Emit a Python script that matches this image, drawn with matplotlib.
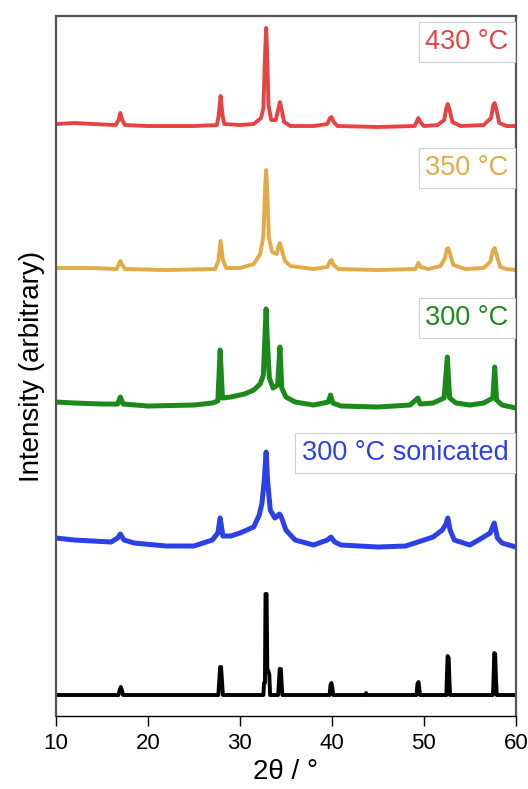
import numpy as np
import matplotlib
matplotlib.use('Agg')
import matplotlib.pyplot as plt

plt.rcParams['font.family'] = ['Liberation Sans', 'DejaVu Sans']

# 2theta / intensity, already stacked (arbitrary units)
red_x = [10, 12, 14, 16.5, 16.8, 17.0, 17.2, 17.5, 20, 25, 27.5, 27.7, 27.9, 28.1, 28.3, 30, 31.5,
         32.3, 32.55, 32.75, 32.85, 32.95, 33.1, 33.4, 33.9, 34.2, 34.35, 34.55, 34.8, 35.5, 38,
         39.5, 39.8, 39.95, 40.2, 40.6, 45, 49, 49.25, 49.4, 49.6, 50, 51.5, 52.2, 52.45, 52.6,
         52.8, 53.1, 54, 56.5, 57.3, 57.55, 57.7, 57.9, 58.2, 59, 60]
red_y = [592, 593, 592, 591, 596, 603, 596, 591, 590, 590, 591, 601, 620, 601, 592, 591, 592,
         598, 608, 666, 688, 666, 611, 596, 596, 608, 614, 606, 594, 590, 590,
         592, 598, 599, 594, 590, 589, 590, 595, 598, 594, 590, 591, 596, 608, 612,
         606, 594, 590, 591, 598, 611, 613, 606, 593, 590, 590]

gold_x = [10, 14, 16.6, 16.85, 17.0, 17.2, 17.5, 22, 27.3, 27.65, 27.9, 28.15, 28.5, 30, 31.5,
          32.2, 32.55, 32.75, 32.85, 32.95, 33.15, 33.5, 34.0, 34.2, 34.35, 34.55, 34.9, 35.5,
          38, 39.5, 39.8, 39.95, 40.2, 40.7, 45, 49.1, 49.4, 49.65, 50.5, 51.8, 52.3, 52.5,
          52.65, 52.85, 53.2, 54.5, 56.5, 57.2, 57.5, 57.7, 57.95, 58.3, 59, 60]
gold_y = [448, 448, 447, 452, 455, 451, 447, 446, 447, 455, 475, 456, 448, 448, 452,
          462, 480, 530, 546, 530, 478, 464, 462, 470, 473, 466, 455, 450,
          447, 449, 455, 456, 451, 447, 446, 447, 453, 449, 447, 450, 458, 467,
          468, 462, 451, 447, 448, 454, 465, 468, 460, 449, 447, 446]

green_x = [10, 12, 15, 16.7, 17.0, 17.3, 20, 25, 27.0, 27.6, 27.85, 28.1, 29, 30.5, 31.5, 32.2,
           32.55, 32.75, 32.85, 32.95, 33.2, 33.6, 34.1, 34.35, 34.55, 35, 36, 38, 39.6, 39.85,
           40.1, 41, 45, 48.5, 49.35, 49.6, 51, 52.2, 52.55, 52.8, 53.5, 55, 56.5, 57.5, 57.7,
           57.9, 58.5, 60]
green_y = [314, 313, 312, 312, 319, 312, 310, 311, 313, 315, 366, 318, 319, 322, 326, 332,
           341, 386, 407, 381, 338, 328, 331, 369, 328, 319, 314, 311, 314, 321,
           313, 310, 309, 311, 318, 312, 313, 318, 359, 318, 313, 311, 313, 318, 349,
           316, 311, 308]

blue_x = [10, 12, 14, 16, 16.7, 17.0, 17.4, 18.5, 22, 25, 27.0, 27.6, 27.85, 28.15, 29, 30,
          31.5, 32.1, 32.4, 32.65, 32.85, 33.0, 33.3, 33.8, 34.3, 34.5, 35, 36, 38, 39.5, 39.9,
          40.3, 41, 45, 48, 49.35, 51, 52.0, 52.4, 52.6, 52.85, 53.3, 55, 56.5, 57.2, 57.65,
          58.0, 58.5, 60]
blue_y = [178, 176, 175, 174, 178, 182, 176, 173, 170, 170, 176, 183, 198, 180, 180, 183,
          189, 201, 213, 236, 264, 236, 206, 198, 202, 199, 186, 176, 171, 176, 179,
          174, 171, 169, 170, 174, 179, 186, 192, 198, 186, 176, 171, 179, 183, 193,
          178, 173, 169]

ref_x = [10, 16.8, 16.9, 17.05, 17.2, 17.3, 27.65, 27.75, 27.85, 27.95, 28.05, 28.15,
         32.55, 32.62, 32.72, 32.78, 32.9, 32.98, 33.1, 33.2, 33.28,
         34.15, 34.25, 34.32, 34.45, 34.55, 34.62, 39.75, 39.85, 39.95, 40.05, 40.15,
         43.65, 43.72, 43.8, 49.2, 49.3, 49.42, 49.52, 49.6,
         52.45, 52.5, 52.58, 52.7, 52.78, 52.85, 57.5, 57.55, 57.65, 57.75, 57.85, 57.92, 60]
ref_y = [21, 21, 25, 29, 25, 21, 21, 35, 49, 49, 35, 21,
         21, 33, 33, 122, 122, 45, 45, 41, 21,
         21, 35, 47, 47, 30, 21, 21, 31, 33, 28, 21,
         21, 23, 21, 21, 32, 34, 26, 21,
         21, 40, 60, 58, 35, 21, 21, 30, 63, 62, 35, 21, 21]

labels = ['430 °C', '350 °C', '300 °C', '300 °C sonicated']
label_pos = [(59.2, 674), (59.2, 548), (59.2, 398), (59.2, 263)]
colors = ['#E84343', '#E2AA48', '#1B8A1B', '#2B40E6']

fig = plt.figure(figsize=(5.28, 7.89), dpi=100)
ax = fig.add_axes([0.106, 0.0925, 0.871, 0.8872])

ax.plot(ref_x, ref_y, color='black', lw=2.8)
ax.plot(blue_x, blue_y, color=colors[3], lw=3.6)
ax.plot(green_x, green_y, color=colors[2], lw=3.6)
ax.plot(gold_x, gold_y, color=colors[1], lw=2.8)
ax.plot(red_x, red_y, color=colors[0], lw=2.8)

for lab, (lx, ly), c in zip(labels, label_pos, colors):
    ax.text(lx, ly, lab, color=c, fontsize=19.5, ha='right', va='center',
            bbox=dict(boxstyle='square,pad=0.25', fc='white', ec='#d0d0d0', lw=0.8))

ax.set_xlim(10, 60)
ax.set_ylim(0, 700)
ax.set_xticks([10, 20, 30, 40, 50, 60])
ax.set_yticks([])
ax.tick_params(axis='x', direction='out', length=7, width=1, labelsize=16, pad=5)
for s in ['top', 'left', 'right']:
    ax.spines[s].set_color('#555555')
    ax.spines[s].set_linewidth(1.6)
ax.spines['bottom'].set_color('black')
ax.spines['bottom'].set_linewidth(1)

ax.set_xlabel('2θ / °', fontsize=20, labelpad=4)
ax.set_ylabel('Intensity (arbitrary)', fontsize=20, labelpad=8)

fig.savefig('out.png', dpi=100)
